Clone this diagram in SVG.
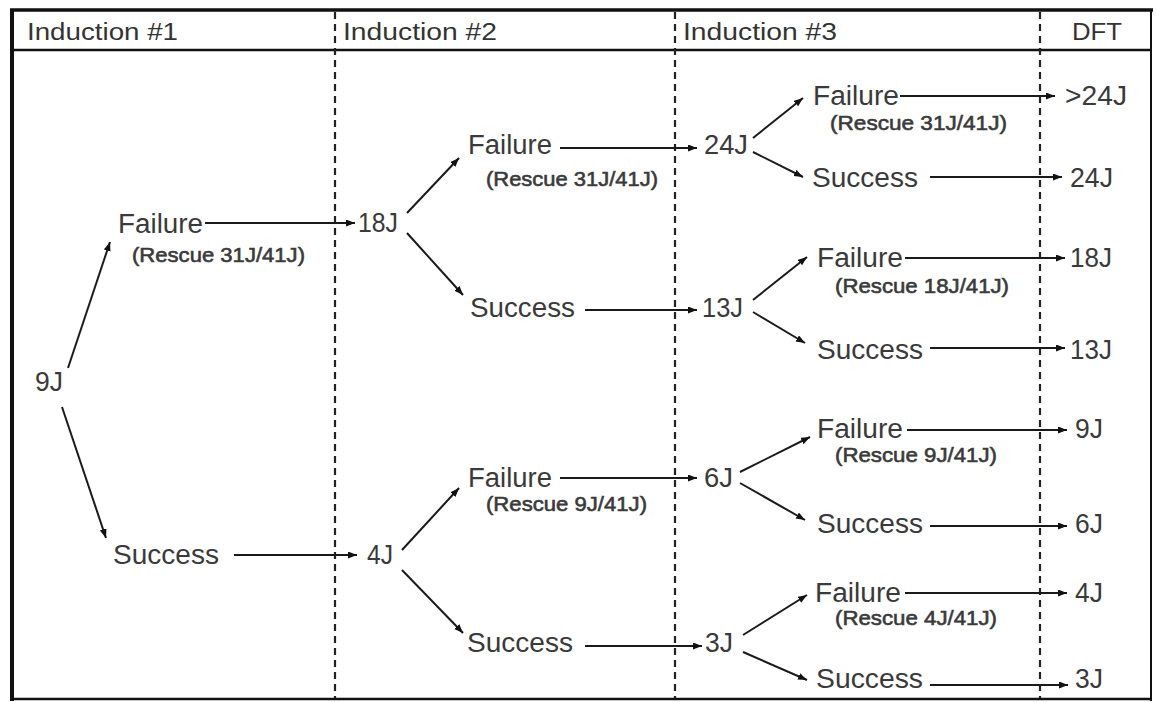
<svg xmlns="http://www.w3.org/2000/svg" width="1157" height="702" viewBox="0 0 1157 702">
<style>
.hd{font-family:"Liberation Sans",Arial,sans-serif;font-size:23px;fill:#333}
.lb{font-family:"Liberation Sans",Arial,sans-serif;font-size:27px;fill:#3a3a3a}
.rs{font-family:"Liberation Sans",Arial,sans-serif;font-size:21px;fill:#3a3a3a;stroke:#3a3a3a;stroke-width:0.6}
.cn line{stroke:#1a1a1a;stroke-width:2;marker-end:url(#ah)}
.fr{stroke:#111;fill:none}
.dv{stroke:#222;stroke-width:2.2;stroke-dasharray:7 5}
</style>
<defs>
<marker id="ah" markerUnits="userSpaceOnUse" markerWidth="10" markerHeight="8" refX="9" refY="3.5" orient="auto">
<path d="M0,0 L9,3.5 L0,7 z" fill="#111"/>
</marker>
</defs>
<rect width="1157" height="702" fill="#fff"/>
<g id="frame">
<line class="fr" x1="10" y1="10" x2="1153" y2="10" stroke-width="3.5"/>
<line class="fr" x1="12" y1="9" x2="12" y2="701" stroke-width="4"/>
<line class="fr" x1="1151" y1="9" x2="1151" y2="701" stroke-width="2"/>
<line class="fr" x1="11" y1="699" x2="1152" y2="699" stroke-width="2.5"/>
<line class="fr" x1="12" y1="50" x2="1151" y2="50" stroke-width="2.5"/>
<line class="dv" x1="335" y1="12" x2="335" y2="698"/>
<line class="dv" x1="675" y1="12" x2="675" y2="698"/>
<line class="dv" x1="1040" y1="12" x2="1040" y2="698"/>
</g>
<g id="headers">
<text class="hd" x="27" y="40" textLength="151" lengthAdjust="spacingAndGlyphs">Induction #1</text>
<text class="hd" x="343" y="40" textLength="154" lengthAdjust="spacingAndGlyphs">Induction #2</text>
<text class="hd" x="683" y="40" textLength="154" lengthAdjust="spacingAndGlyphs">Induction #3</text>
<text class="hd" x="1072" y="40" textLength="50" lengthAdjust="spacingAndGlyphs">DFT</text>
</g>
<g class="cn" id="connectors">
<line x1="68" y1="368" x2="110" y2="242"/>
<line x1="62" y1="407" x2="106" y2="538"/>
<line x1="205" y1="223" x2="355" y2="223"/>
<line x1="234" y1="555" x2="357" y2="555"/>
<line x1="407" y1="213" x2="459" y2="158"/>
<line x1="407" y1="233" x2="463" y2="295"/>
<line x1="560" y1="148" x2="697" y2="148"/>
<line x1="585" y1="310" x2="697" y2="310"/>
<line x1="402" y1="550" x2="459" y2="488"/>
<line x1="402" y1="570" x2="463" y2="633"/>
<line x1="560" y1="478" x2="697" y2="478"/>
<line x1="585" y1="646" x2="702" y2="646"/>
<line x1="753" y1="138" x2="803" y2="98"/>
<line x1="753" y1="152" x2="803" y2="177"/>
<line x1="900" y1="96" x2="1055" y2="96"/>
<line x1="930" y1="177" x2="1062" y2="177"/>
<line x1="753" y1="300" x2="807" y2="257"/>
<line x1="753" y1="312" x2="805" y2="343"/>
<line x1="905" y1="258" x2="1065" y2="258"/>
<line x1="930" y1="348" x2="1065" y2="348"/>
<line x1="740" y1="472" x2="810" y2="437"/>
<line x1="740" y1="483" x2="805" y2="520"/>
<line x1="907" y1="430" x2="1067" y2="430"/>
<line x1="930" y1="526" x2="1067" y2="526"/>
<line x1="743" y1="635" x2="807" y2="595"/>
<line x1="743" y1="652" x2="807" y2="680"/>
<line x1="905" y1="593" x2="1067" y2="593"/>
<line x1="930" y1="685" x2="1068" y2="685"/>
</g>
<g id="n9J"><text class="lb" x="35" y="391" textLength="28" lengthAdjust="spacingAndGlyphs">9J</text></g>
<g id="i1-failure"><text class="lb" x="118" y="233" textLength="85" lengthAdjust="spacingAndGlyphs">Failure</text><text class="rs" x="132" y="262" textLength="173" lengthAdjust="spacingAndGlyphs">(Rescue 31J/41J)</text></g>
<g id="i1-success"><text class="lb" x="113" y="564" textLength="106" lengthAdjust="spacingAndGlyphs">Success</text></g>
<g id="n18J"><text class="lb" x="358" y="232" textLength="40" lengthAdjust="spacingAndGlyphs">18J</text></g>
<g id="n4J"><text class="lb" x="367" y="564" textLength="26" lengthAdjust="spacingAndGlyphs">4J</text></g>
<g id="i2a-failure"><text class="lb" x="468" y="154" textLength="84" lengthAdjust="spacingAndGlyphs">Failure</text><text class="rs" x="486" y="186" textLength="172" lengthAdjust="spacingAndGlyphs">(Rescue 31J/41J)</text></g>
<g id="i2a-success"><text class="lb" x="470" y="317" textLength="105" lengthAdjust="spacingAndGlyphs">Success</text></g>
<g id="n24J"><text class="lb" x="704" y="154" textLength="44" lengthAdjust="spacingAndGlyphs">24J</text></g>
<g id="n13J"><text class="lb" x="702" y="317" textLength="41" lengthAdjust="spacingAndGlyphs">13J</text></g>
<g id="i2b-failure"><text class="lb" x="468" y="487" textLength="84" lengthAdjust="spacingAndGlyphs">Failure</text><text class="rs" x="486" y="511" textLength="161" lengthAdjust="spacingAndGlyphs">(Rescue 9J/41J)</text></g>
<g id="i2b-success"><text class="lb" x="467" y="652" textLength="106" lengthAdjust="spacingAndGlyphs">Success</text></g>
<g id="n6J"><text class="lb" x="704" y="487" textLength="29" lengthAdjust="spacingAndGlyphs">6J</text></g>
<g id="n3J"><text class="lb" x="705" y="652" textLength="28" lengthAdjust="spacingAndGlyphs">3J</text></g>
<g id="i3a-failure"><text class="lb" x="813" y="105" textLength="86" lengthAdjust="spacingAndGlyphs">Failure</text><text class="rs" x="830" y="130" textLength="177" lengthAdjust="spacingAndGlyphs">(Rescue 31J/41J)</text></g>
<g id="i3a-success"><text class="lb" x="812" y="187" textLength="106" lengthAdjust="spacingAndGlyphs">Success</text></g>
<g id="dft1"><text class="lb" x="1065" y="105" textLength="62" lengthAdjust="spacingAndGlyphs">&gt;24J</text></g>
<g id="dft2"><text class="lb" x="1070" y="187" textLength="43" lengthAdjust="spacingAndGlyphs">24J</text></g>
<g id="i3b-failure"><text class="lb" x="817" y="267" textLength="86" lengthAdjust="spacingAndGlyphs">Failure</text><text class="rs" x="835" y="293" textLength="174" lengthAdjust="spacingAndGlyphs">(Rescue 18J/41J)</text></g>
<g id="i3b-success"><text class="lb" x="817" y="359" textLength="106" lengthAdjust="spacingAndGlyphs">Success</text></g>
<g id="dft3"><text class="lb" x="1070" y="267" textLength="42" lengthAdjust="spacingAndGlyphs">18J</text></g>
<g id="dft4"><text class="lb" x="1070" y="359" textLength="42" lengthAdjust="spacingAndGlyphs">13J</text></g>
<g id="i3c-failure"><text class="lb" x="817" y="438" textLength="86" lengthAdjust="spacingAndGlyphs">Failure</text><text class="rs" x="835" y="462" textLength="162" lengthAdjust="spacingAndGlyphs">(Rescue 9J/41J)</text></g>
<g id="i3c-success"><text class="lb" x="817" y="533" textLength="106" lengthAdjust="spacingAndGlyphs">Success</text></g>
<g id="dft5"><text class="lb" x="1075" y="438" textLength="28" lengthAdjust="spacingAndGlyphs">9J</text></g>
<g id="dft6"><text class="lb" x="1075" y="533" textLength="28" lengthAdjust="spacingAndGlyphs">6J</text></g>
<g id="i3d-failure"><text class="lb" x="815" y="602" textLength="86" lengthAdjust="spacingAndGlyphs">Failure</text><text class="rs" x="835" y="625" textLength="162" lengthAdjust="spacingAndGlyphs">(Rescue 4J/41J)</text></g>
<g id="i3d-success"><text class="lb" x="816" y="688" textLength="107" lengthAdjust="spacingAndGlyphs">Success</text></g>
<g id="dft7"><text class="lb" x="1075" y="602" textLength="28" lengthAdjust="spacingAndGlyphs">4J</text></g>
<g id="dft8"><text class="lb" x="1075" y="688" textLength="28" lengthAdjust="spacingAndGlyphs">3J</text></g>
</svg>
